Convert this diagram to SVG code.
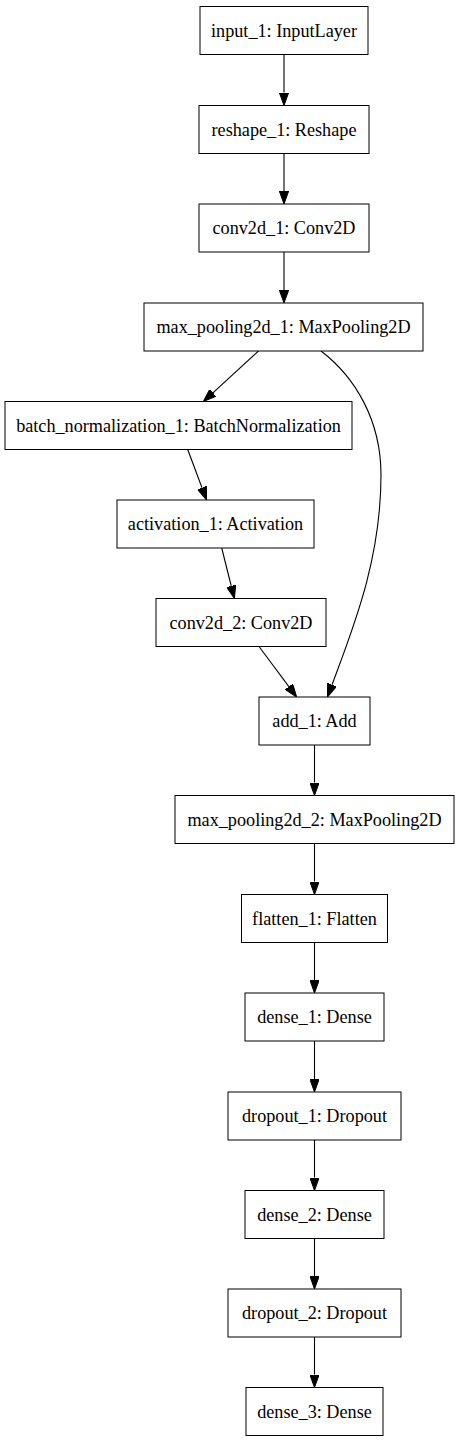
<svg xmlns="http://www.w3.org/2000/svg" width="459" height="1443" viewBox="0 0 459 1443">
<style>
.node rect{fill:#fff;stroke:#000;stroke-width:1}
.node text{font-family:"Liberation Serif","Times New Roman",serif;font-size:18.2px;text-anchor:middle;fill:#000}
.edges path{fill:none;stroke:#000;stroke-width:1.1}
</style>
<defs>
<marker id="ah" viewBox="0 0 13 9.4" refX="0" refY="4.7" markerWidth="13" markerHeight="9.4" markerUnits="userSpaceOnUse" orient="auto">
<path d="M0,0 L13,4.7 L0,9.4 z" fill="#000" stroke="#000" stroke-width="1"/>
</marker>
</defs>
<rect width="459" height="1443" fill="#fff"/>
<g class="edges">
<path d="M284,54.5 L284,92.5" marker-end="url(#ah)"/>
<path d="M284,153.5 L284,191" marker-end="url(#ah)"/>
<path d="M284,252 L284,290" marker-end="url(#ah)"/>
<path d="M258.5,351 L212.9,392.8" marker-end="url(#ah)"/>
<path d="M187.7,449.5 L202,487.8" marker-end="url(#ah)"/>
<path d="M221.7,548 L231.2,585.9" marker-end="url(#ah)"/>
<path d="M259,646.5 L288.9,686.6" marker-end="url(#ah)"/>
<path d="M321,351 C355,377 381,420 381,475 C381,560 353,628 332,684.8" marker-end="url(#ah)"/>
<path d="M314.5,745 L314.5,782.5" marker-end="url(#ah)"/>
<path d="M314.5,843.5 L314.5,881.5" marker-end="url(#ah)"/>
<path d="M314.5,942.5 L314.5,980" marker-end="url(#ah)"/>
<path d="M314.5,1041 L314.5,1079" marker-end="url(#ah)"/>
<path d="M314.5,1140 L314.5,1177.5" marker-end="url(#ah)"/>
<path d="M314.5,1238.5 L314.5,1276" marker-end="url(#ah)"/>
<path d="M314.5,1337 L314.5,1374.5" marker-end="url(#ah)"/>
</g>
<g id="input_1" class="node"><rect x="200" y="6.5" width="168" height="48"/><text x="284" y="36.5">input_1: InputLayer</text></g>
<g id="reshape_1" class="node"><rect x="199" y="105.5" width="170" height="48"/><text x="284" y="135.5">reshape_1: Reshape</text></g>
<g id="conv2d_1" class="node"><rect x="199" y="204" width="170" height="48"/><text x="284" y="234">conv2d_1: Conv2D</text></g>
<g id="max_pooling2d_1" class="node"><rect x="144" y="303" width="279" height="48"/><text x="283.5" y="333">max_pooling2d_1: MaxPooling2D</text></g>
<g id="batch_normalization_1" class="node"><rect x="5" y="401.5" width="347" height="48"/><text x="178.5" y="431.5">batch_normalization_1: BatchNormalization</text></g>
<g id="activation_1" class="node"><rect x="117" y="500" width="197" height="48"/><text x="215.5" y="530">activation_1: Activation</text></g>
<g id="conv2d_2" class="node"><rect x="156" y="598.5" width="170" height="48"/><text x="241" y="628.5">conv2d_2: Conv2D</text></g>
<g id="add_1" class="node"><rect x="259" y="697" width="111" height="48"/><text x="314.5" y="727">add_1: Add</text></g>
<g id="max_pooling2d_2" class="node"><rect x="175" y="795.5" width="279" height="48"/><text x="314.5" y="825.5">max_pooling2d_2: MaxPooling2D</text></g>
<g id="flatten_1" class="node"><rect x="241.5" y="894.5" width="146" height="48"/><text x="314.5" y="924.5">flatten_1: Flatten</text></g>
<g id="dense_1" class="node"><rect x="245" y="993" width="139" height="48"/><text x="314.5" y="1023">dense_1: Dense</text></g>
<g id="dropout_1" class="node"><rect x="228" y="1092" width="173" height="48"/><text x="314.5" y="1122">dropout_1: Dropout</text></g>
<g id="dense_2" class="node"><rect x="245" y="1190.5" width="139" height="48"/><text x="314.5" y="1220.5">dense_2: Dense</text></g>
<g id="dropout_2" class="node"><rect x="228" y="1289" width="173" height="48"/><text x="314.5" y="1319">dropout_2: Dropout</text></g>
<g id="dense_3" class="node"><rect x="246" y="1387.5" width="137" height="48"/><text x="314.5" y="1417.5">dense_3: Dense</text></g>
</svg>
